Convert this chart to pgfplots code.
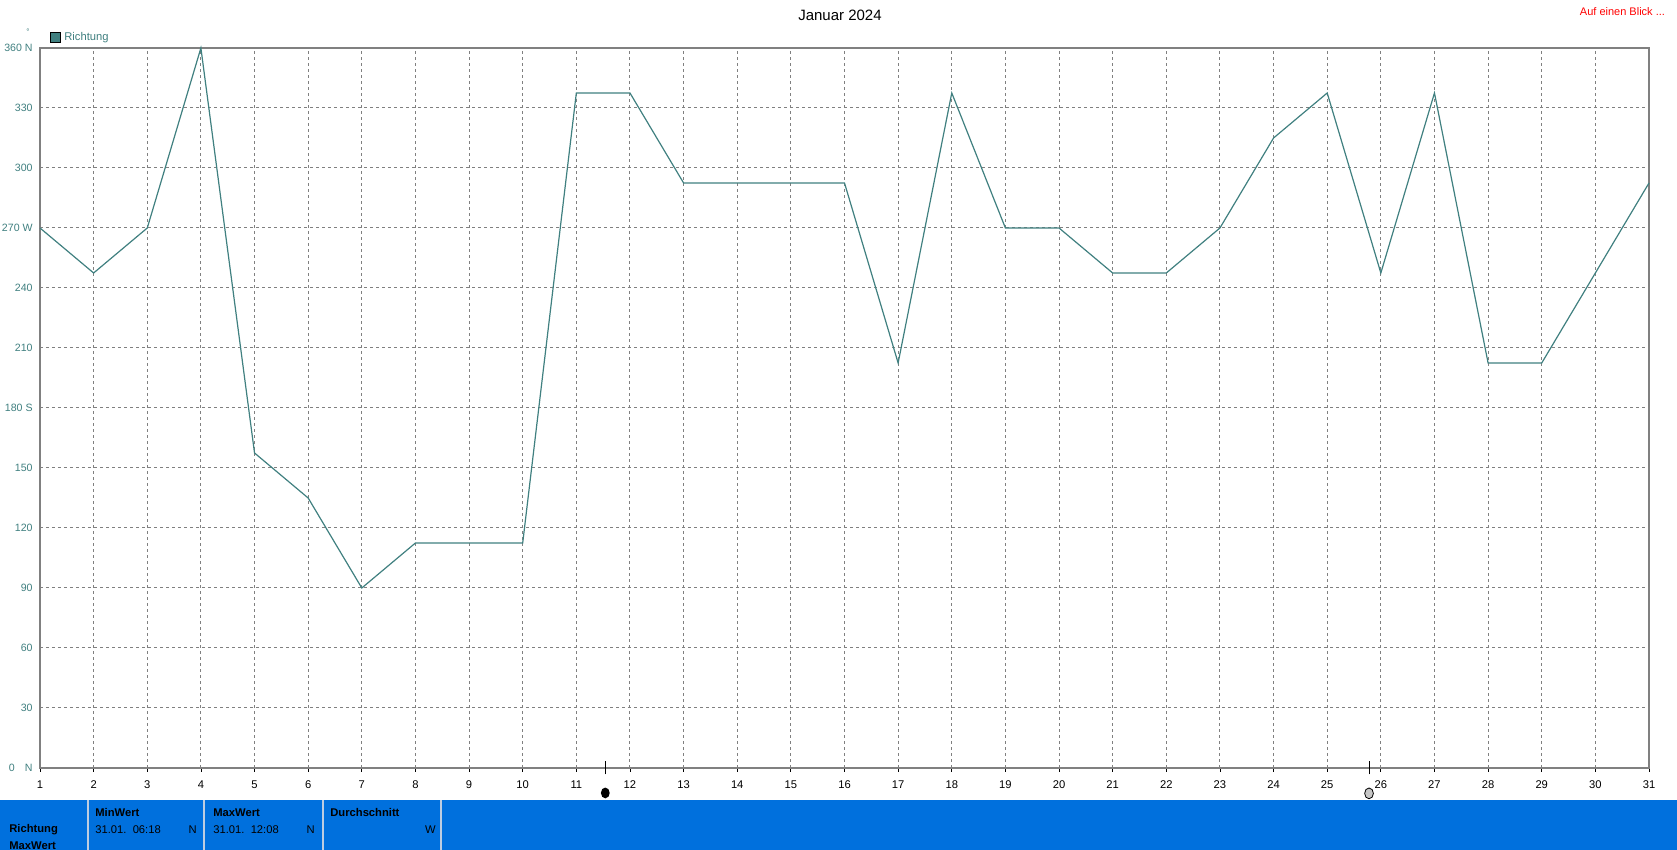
\documentclass[border=0pt]{standalone}
\usepackage{pgfplots}
\pgfplotsset{compat=1.18}
\usepackage{fontspec}
\setmainfont{Liberation Sans}
\definecolor{teal1}{RGB}{64,128,128}
\definecolor{axgray}{RGB}{128,128,128}
\definecolor{barblue}{RGB}{0,112,221}
\definecolor{sepcol}{RGB}{190,205,225}
\begin{document}
\begin{tikzpicture}
\path[use as bounding box] (0,0) rectangle (838.5pt,425pt);
\fill[white] (0,0) rectangle (838.5pt,425pt);
\begin{axis}[
  at={(20pt,41pt)}, anchor=south west,
  width=804.5pt, height=360pt, scale only axis,
  xmin=1, xmax=31, ymin=0, ymax=360,
  /pgf/number format/assume math mode=true,
  xtick={1,...,31},
  ytick={0,30,...,360},
  yticklabels={{\makebox[8pt][l]{0}N},30,60,90,120,150,{180 S},210,240,{270 W},300,330,{360 N}},
  grid=major,
  major grid style={axgray, line width=0.5pt, dash pattern=on 1.5pt off 1.5pt},
  axis line style={axgray, line width=1.3pt},
  tick style={black, line width=0.4pt},
  xtick pos=bottom, ytick pos=left,
  xtick align=outside, ytick align=outside,
  major tick length=2pt,
  ytick style={draw=none},
  xticklabel style={font=\fontsize{5.6}{6}\selectfont, black, yshift=-1pt},
  yticklabel style={font=\fontsize{5.3}{6}\selectfont, text=teal1, inner sep=0pt, xshift=-1.5pt},
  extra x ticks={11.54,25.78},
  extra x tick labels={{\tikz\fill[black] (0,0) ellipse (2.2pt and 2.7pt);},{\tikz\draw[black,fill=gray!45,line width=0.4pt] (0,0) ellipse (2.2pt and 2.7pt);}},
  extra x tick style={grid=none, tick align=center, major tick length=6.5pt, tick style={black,line width=0.5pt}, xticklabel style={yshift=-2pt}},
  clip=false,
]
\addplot[teal1, line width=0.6pt] coordinates {
(1,270) (2,247.5) (3,270) (4,360) (5,157.5) (6,135) (7,90) (8,112.5) (9,112.5) (10,112.5)
(11,337.5) (12,337.5) (13,292.5) (14,292.5) (15,292.5) (16,292.5) (17,202.5) (18,337.5) (19,270) (20,270)
(21,247.5) (22,247.5) (23,270) (24,315) (25,337.5) (26,247.5) (27,337.5) (28,202.5) (29,202.5) (30,247.5) (31,292.5)
};
\end{axis}
% title and header texts
\node[font=\fontsize{7.5}{8}\selectfont] at (420pt,417.5pt) {Januar 2024};
\node[font=\fontsize{5.5}{6}\selectfont, text=red, anchor=east] at (836pt,419pt) {Auf einen Blick ...};
\node[font=\fontsize{4}{4}\selectfont, text=teal1] at (14pt,409pt) {°};
\draw[black, fill=teal1, line width=0.5pt] (25pt,403.5pt) rectangle (30pt,408.5pt);
\node[font=\fontsize{5.6}{6}\selectfont, text=teal1, anchor=west, inner sep=0pt] at (32pt,406pt) {Richtung};
% bottom blue bar
\fill[barblue] (0,0) rectangle (838.5pt,25pt);
\foreach \xx in {44,102,161.5,220.5} \draw[sepcol, line width=1pt] (\xx pt,0) -- (\xx pt,25pt);
\begin{scope}[every node/.style={font=\fontsize{5.6}{6}\selectfont, inner sep=0pt}]
\node[anchor=west, font=\fontsize{5.6}{6}\selectfont\bfseries] at (4.5pt,10pt) {Richtung};
\node[anchor=west, font=\fontsize{5.6}{6}\selectfont\bfseries] at (4.5pt,2pt) {MaxWert};
\node[anchor=west, font=\fontsize{5.6}{6}\selectfont\bfseries] at (47.5pt,18.5pt) {MinWert};
\node[anchor=west] at (47.5pt,10pt) {31.01.~~06:18};
\node[anchor=east] at (98.5pt,10pt) {N};
\node[anchor=west, font=\fontsize{5.6}{6}\selectfont\bfseries] at (106.5pt,18.5pt) {MaxWert};
\node[anchor=west] at (106.5pt,10pt) {31.01.~~12:08};
\node[anchor=east] at (157.5pt,10pt) {N};
\node[anchor=west, font=\fontsize{5.6}{6}\selectfont\bfseries] at (165pt,18.5pt) {Durchschnitt};
\node[anchor=east] at (218pt,10pt) {W};
\end{scope}
\end{tikzpicture}
\end{document}
